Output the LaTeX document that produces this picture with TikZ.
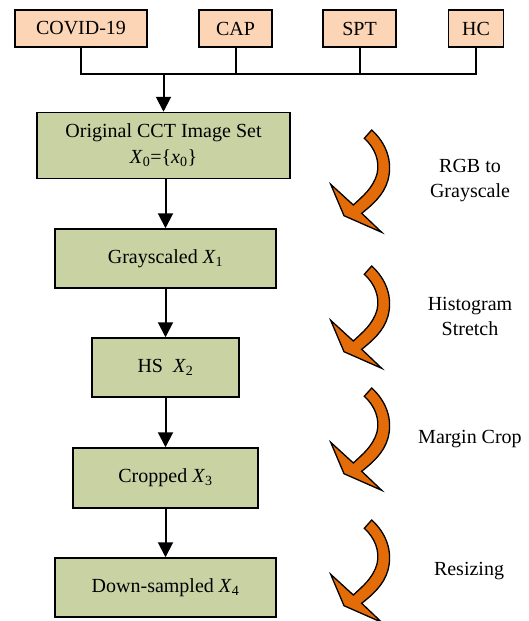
\documentclass[tikz,border=0pt]{standalone}
\usepackage{fontspec}
\setmainfont{Liberation Serif}
\usetikzlibrary{arrows.meta}
\definecolor{peach}{RGB}{251,213,181}
\definecolor{olive}{RGB}{200,210,163}
\definecolor{orng}{RGB}{227,108,9}
\newcommand{\Xsub}[2]{\textit{#1}\textsubscript{#2}}
\tikzset{
  topbox/.style={draw=black, line width=1.5pt, fill=peach, minimum height=37pt, inner sep=0pt, font=\fontsize{20}{24}\selectfont},
  stepbox/.style={draw=black, line width=1.5pt, fill=olive, inner sep=0pt, font=\fontsize{20}{27}\selectfont, align=center},
  conn/.style={line width=2pt, black},
  arr/.style={conn, -{Triangle[length=15pt,width=15pt]}},
  lbl/.style={font=\fontsize{20}{25}\selectfont, align=center},
  curvearrow/.style={fill=orng, draw=black, line width=1.3pt, line join=miter}
}
\begin{document}
\begin{tikzpicture}[x=1pt,y=-1pt]
\useasboundingbox (0,0) rectangle (528,621);
\clip (0,0) rectangle (528,621);
% top category boxes
\node[topbox, minimum width=132pt] (covid) at (81,28.5) {COVID-19};
\node[topbox, minimum width=73pt] (cap) at (235.5,28.5) {CAP};
\node[topbox, minimum width=73pt] (spt) at (359.5,28.5) {SPT};
\node[topbox, minimum width=55pt] (hc) at (476,28.5) {HC};
\coordinate (bus) at (163.5,74);
% pipeline boxes
\node[stepbox, minimum width=253pt, minimum height=66pt] (orig) at (163.5,145.5) {Original CCT Image Set\\[-1pt]\Xsub{X}{0}=\{\Xsub{x}{0}\}};
\node[stepbox, minimum width=221pt, minimum height=59pt] (gray) at (165.5,258.5) {Grayscaled \Xsub{X}{1}};
\node[stepbox, minimum width=147pt, minimum height=59pt] (hs) at (165.5,367.5) {HS~~\Xsub{X}{2}};
\node[stepbox, minimum width=185pt, minimum height=60pt] (crop) at (165.5,478) {Cropped \Xsub{X}{3}};
\node[stepbox, minimum width=221pt, minimum height=59pt] (down) at (165.5,587.5) {Down-sampled \Xsub{X}{4}};
% bus connectors
\draw[conn] (covid.south) |- (hc.south |- bus) -- (hc.south);
\draw[conn] (cap.south) -- (cap.south |- bus);
\draw[conn] (spt.south) -- (spt.south |- bus);
\draw[arr] (bus) -- (bus |- orig.north);
\draw[arr] (orig.south -| gray.north) -- (gray.north);
\draw[arr] (gray.south) -- (hs.north);
\draw[arr] (hs.south) -- (crop.north);
\draw[arr] (crop.south) -- (down.north);
% curved orange arrows
\foreach \dy in {0,136,258,390}{
  \begin{scope}[yshift=-\dy pt]
  \draw[curvearrow] (364.3,138.3) -- (371.7,130)
    .. controls (386,143) and (393,161) .. (388,180)
    .. controls (384,195) and (372,205) .. (361.7,213.3)
    -- (381.7,232.3) -- (344,215.7) -- (330.7,184.3) -- (353.3,205)
    .. controls (363,196) and (373,188) .. (377,174)
    .. controls (380,161) and (375,148) .. (364.3,138.3) -- cycle;
  \end{scope}
}
% right labels
\node[lbl] (l1) at (470,181) {RGB to\\Grayscale};
\node[lbl] (l2) at (470,316.5) {Histogram\\Stretch};
\node[lbl] (l3) at (470,439) {Margin Crop};
\node[lbl] (l4) at (469,571.5) {Resizing};
\end{tikzpicture}
\end{document}
